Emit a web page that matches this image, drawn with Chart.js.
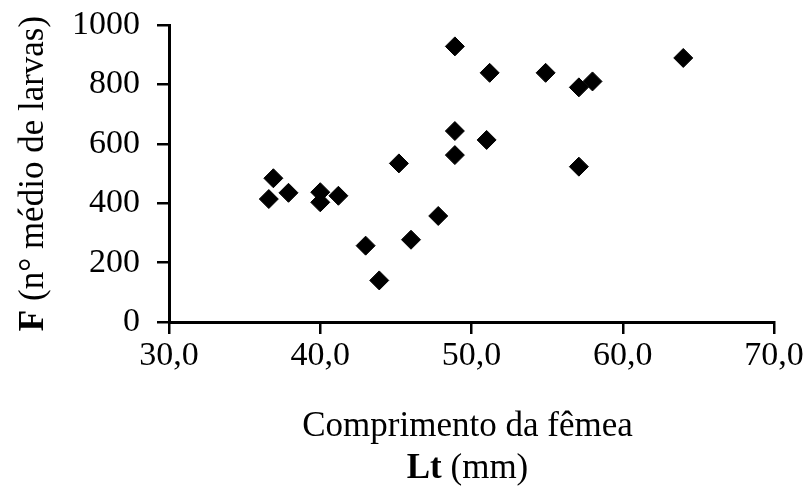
<!DOCTYPE html>
<html>
<head>
<meta charset="utf-8">
<script src="https://cdn.jsdelivr.net/npm/chart.js@4.4.1/dist/chart.umd.min.js"></script>
<style>
  html, body { margin: 0; padding: 0; background: #ffffff; }
  #wrap { width: 808px; height: 486px; position: relative; }
</style>
</head>
<body>
<div id="wrap"><canvas id="c" width="808" height="486"></canvas></div>
<script>
// ---- data ----
const femaleLength = [36.6, 36.9, 37.9, 40.0, 40.0, 41.2, 43.0, 43.9, 45.2, 46.0, 47.8,
                      48.9, 48.9, 48.9, 51.0, 51.2, 54.9, 57.1, 58.0, 57.1, 64.0];
const larvaeMean   = [414, 484, 435, 437, 403, 425, 257, 140, 534, 277, 357,
                      562, 643, 928, 613, 839, 839, 790, 810, 523, 889];
const xTickValues = [30, 40, 50, 60, 70];
const yTickValues = [0, 200, 400, 600, 800, 1000];
const xTitleLine1 = 'Comprimento da fêmea';
const xTitleBold = 'Lt';
const xTitleRest = ' (mm)';
const yTitleBold = 'F';
const yTitleRest = ' (n° médio de larvas)';

const FAMILY = '"Liberation Serif", "Times New Roman", serif';
const TICK_SIZE = 34;
const TITLE_SIZE = 35;

const points = femaleLength.map((x, i) => ({ x: x, y: larvaeMean[i] }));

const titlesPlugin = {
  id: 'axisTitles',
  afterDraw(chart) {
    const ctx = chart.ctx;
    const a = chart.chartArea;
    ctx.save();
    ctx.fillStyle = '#000';
    // x title, line 1
    const cx = (a.left + a.right) / 2 - 4;
    ctx.textAlign = 'center';
    ctx.textBaseline = 'alphabetic';
    ctx.font = `normal ${TITLE_SIZE}px ${FAMILY}`;
    ctx.fillText(xTitleLine1, cx, a.bottom + 114);
    // x title, line 2 (mixed bold)
    ctx.textAlign = 'left';
    ctx.font = `bold ${TITLE_SIZE}px ${FAMILY}`;
    const wb = ctx.measureText(xTitleBold).width;
    ctx.font = `normal ${TITLE_SIZE}px ${FAMILY}`;
    const wr = ctx.measureText(xTitleRest).width;
    let sx = cx - (wb + wr) / 2;
    ctx.font = `bold ${TITLE_SIZE}px ${FAMILY}`;
    ctx.fillText(xTitleBold, sx, a.bottom + 156);
    ctx.font = `normal ${TITLE_SIZE}px ${FAMILY}`;
    ctx.fillText(xTitleRest, sx + wb, a.bottom + 156);
    // y title (rotated, mixed bold)
    ctx.translate(34, (a.top + a.bottom) / 2);
    ctx.rotate(-Math.PI / 2);
    ctx.textBaseline = 'middle';
    ctx.font = `bold ${TITLE_SIZE}px ${FAMILY}`;
    const yb = ctx.measureText(yTitleBold).width;
    ctx.font = `normal ${TITLE_SIZE}px ${FAMILY}`;
    const yr = ctx.measureText(yTitleRest).width;
    const sy = -(yb + yr) / 2;
    ctx.font = `bold ${TITLE_SIZE}px ${FAMILY}`;
    ctx.fillText(yTitleBold, sy, 0);
    ctx.font = `normal ${TITLE_SIZE}px ${FAMILY}`;
    ctx.fillText(yTitleRest, sy + yb, 0);
    ctx.restore();
  }
};

new Chart(document.getElementById('c'), {
  type: 'scatter',
  data: {
    datasets: [{
      data: points,
      pointStyle: 'rectRot',
      pointRadius: 9.5,
      pointHoverRadius: 9.5,
      backgroundColor: '#000000',
      borderColor: '#000000',
      borderWidth: 1,
      clip: false
    }]
  },
  options: {
    responsive: false,
    animation: false,
    events: [],
    layout: { padding: { top: 25, right: 34, left: 0, bottom: 0 } },
    plugins: { legend: { display: false }, tooltip: { enabled: false } },
    scales: {
      x: {
        type: 'linear',
        min: 30, max: 70,
        afterBuildTicks: (s) => { s.ticks = xTickValues.map(v => ({ value: v })); },
        afterFit: (s) => { s.height = 164; s.paddingLeft = 0; s.paddingRight = 0; },
        ticks: {
          color: '#000',
          font: { family: FAMILY, size: TICK_SIZE },
          padding: 2,
          maxRotation: 0,
          callback: (v) => Number(v).toFixed(1).replace('.', ',')
        },
        grid: { drawOnChartArea: false, drawTicks: true, tickLength: 12, color: '#000', lineWidth: 2.5 },
        border: { display: true, color: '#000', width: 3 }
      },
      y: {
        type: 'linear',
        min: 0, max: 1000,
        afterBuildTicks: (s) => { s.ticks = yTickValues.map(v => ({ value: v })); },
        afterFit: (s) => { s.width = 169; s.paddingTop = 0; s.paddingBottom = 0; },
        ticks: {
          color: '#000',
          font: { family: FAMILY, size: TICK_SIZE },
          padding: 17,
          callback: (v) => String(v)
        },
        grid: { drawOnChartArea: false, drawTicks: true, tickLength: 12, color: '#000', lineWidth: 2.5 },
        border: { display: true, color: '#000', width: 3 }
      }
    }
  },
  plugins: [titlesPlugin]
});
</script>
</body>
</html>
